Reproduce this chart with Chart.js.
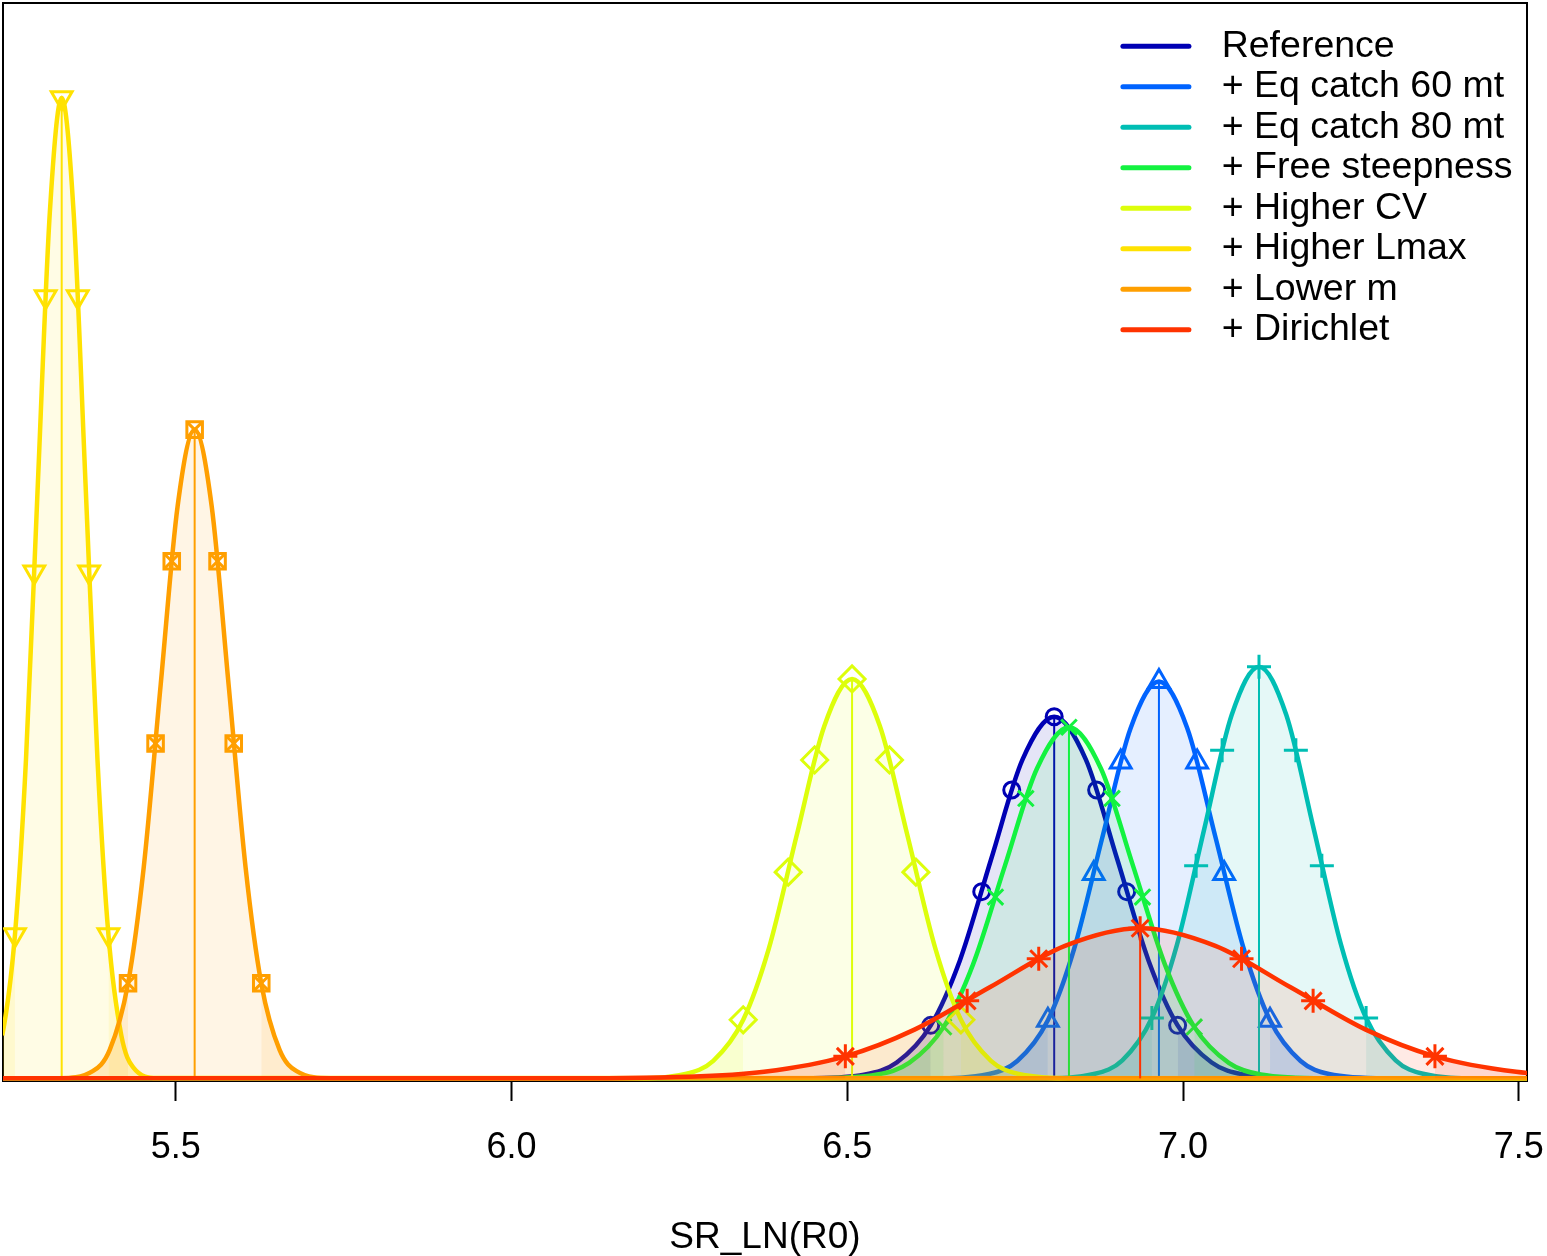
<!DOCTYPE html>
<html>
<head>
<meta charset="utf-8">
<title>SR_LN(R0) densities</title>
<script src="https://cdn.jsdelivr.net/npm/chart.js@4/dist/chart.umd.min.js"></script>
<style>
  html, body { margin: 0; padding: 0; background: #fff; }
  #chartDiv { width: 1547px; height: 1256px; }
</style>
</head>
<body>
<div id="chartDiv"><canvas id="densChart"></canvas></div>
<script>
var seriesNames = ["Reference", "+ Eq catch 60 mt", "+ Eq catch 80 mt", "+ Free steepness",
                   "+ Higher CV", "+ Higher Lmax", "+ Lower m", "+ Dirichlet"];
var seriesColors = ["#0000B4", "#0063FF", "#00BEB4", "#13F240", "#DDFE0B", "#FFE201", "#FF9F00", "#FF3300"];
var markerStyles = ["circle", "triangle", "cross", "crossRot", "rectRot", "triangle", "rect", "star"];
var markerRotation = [0, 0, 0, 0, 0, 180, 0, 0];
var markerOverlay = [null, null, null, null, null, null, "crossRot", null];
var markerSize = [8, 12, 12, 11, 13, 12, 11, 12];

// MLE (vertical line) and density at the MLE
var means = [6.808, 6.964, 7.113, 6.830, 6.507, 5.330, 5.528, 6.936];
var peaks = [4.12, 4.52, 4.69, 4.00, 4.55, 11.17, 7.39, 1.71];

// density curves
var curveX = [
  [5.0, 6.4328, 6.5266, 6.5735, 6.6242, 6.6673, 6.7142, 6.7611, 6.808, 6.8549, 6.9018, 6.9487, 6.9918, 7.0425, 7.0894, 7.1832, 8.0],
  [5.0, 6.6264, 6.7108, 6.753, 6.7986, 6.8374, 6.8796, 6.9218, 6.964, 7.0062, 7.0484, 7.0906, 7.1294, 7.175, 7.2172, 7.3016, 8.0],
  [5.0, 6.7874, 6.8688, 6.9095, 6.9535, 6.9909, 7.0316, 7.0723, 7.113, 7.1537, 7.1944, 7.2351, 7.2725, 7.3165, 7.3572, 7.4386, 8.0],
  [5.0, 6.4492, 6.5444, 6.592, 6.6434, 6.6872, 6.7348, 6.7824, 6.830, 6.8776, 6.9252, 6.9728, 7.0166, 7.068, 7.1156, 7.2108, 8.0],
  [5.0, 6.1762, 6.2589, 6.3003, 6.3449, 6.383, 6.4243, 6.4657, 6.507, 6.5484, 6.5897, 6.6311, 6.6691, 6.7138, 6.7551, 6.8378, 8.0],
  [5.0, 5.188, 5.2235, 5.2415, 5.2604, 5.2768, 5.2945, 5.3123, 5.330, 5.3478, 5.3655, 5.3833, 5.3996, 5.4188, 5.4365, 5.472, 8.0],
  [5.0, 5.3256, 5.3762, 5.4015, 5.4288, 5.4521, 5.4774, 5.5027, 5.528, 5.5533, 5.5786, 5.6039, 5.6272, 5.6545, 5.6798, 5.7304, 8.0],
  [5.0, 6.040, 6.264, 6.376, 6.497, 6.600, 6.712, 6.824, 6.936, 7.048, 7.160, 7.272, 7.375, 7.496, 7.608, 7.832, 8.0]
];
var curveY = [
  [0, 0.0014, 0.0457, 0.181, 0.604, 1.338, 2.499, 3.636, 4.12, 3.636, 2.499, 1.338, 0.604, 0.181, 0.0457, 0.0014, 0],
  [0, 0.0015, 0.0502, 0.198, 0.662, 1.468, 2.741, 3.989, 4.52, 3.989, 2.741, 1.468, 0.662, 0.198, 0.0502, 0.0015, 0],
  [0, 0.0016, 0.0521, 0.206, 0.687, 1.523, 2.845, 4.139, 4.69, 4.139, 2.845, 1.523, 0.687, 0.206, 0.0521, 0.0016, 0],
  [0, 0.0013, 0.0444, 0.176, 0.586, 1.299, 2.426, 3.530, 4.00, 3.530, 2.426, 1.299, 0.586, 0.176, 0.0444, 0.0013, 0],
  [0, 0.0015, 0.0505, 0.200, 0.667, 1.477, 2.760, 4.015, 4.55, 4.015, 2.760, 1.477, 0.667, 0.200, 0.0505, 0.0015, 0],
  [0, 0.004, 0.124, 0.490, 1.636, 3.627, 6.775, 9.858, 11.17, 9.858, 6.775, 3.627, 1.636, 0.490, 0.124, 0.004, 0],
  [0, 0.0025, 0.082, 0.324, 1.083, 2.400, 4.482, 6.522, 7.39, 6.522, 4.482, 2.400, 1.083, 0.324, 0.082, 0.0025, 0],
  [0, 0.0006, 0.019, 0.075, 0.251, 0.555, 1.037, 1.509, 1.71, 1.509, 1.037, 0.555, 0.251, 0.075, 0.019, 0.0006, 0]
];

// symbols at the 2.5, 12.5, 25, 50, 75, 87.5, 97.5 % points
var markX = [
  [6.6242, 6.7001, 6.7448, 6.808, 6.8712, 6.9159, 6.9918],
  [6.7986, 6.8669, 6.9071, 6.964, 7.0209, 7.0611, 7.1294],
  [6.9535, 7.0194, 7.0581, 7.113, 7.1679, 7.2066, 7.2725],
  [6.6434, 6.7205, 6.7658, 6.830, 6.8942, 6.9395, 7.0166],
  [6.3449, 6.4119, 6.4513, 6.507, 6.5627, 6.6021, 6.6691],
  [5.2604, 5.2892, 5.3061, 5.330, 5.3539, 5.3708, 5.3996],
  [5.4288, 5.4698, 5.4939, 5.528, 5.5621, 5.5862, 5.6272],
  [6.497, 6.6784, 6.785, 6.936, 7.087, 7.1936, 7.375]
];
var markY = [
  [0.604, 2.127, 3.285, 4.12, 3.285, 2.127, 0.604],
  [0.662, 2.334, 3.603, 4.52, 3.603, 2.334, 0.662],
  [0.687, 2.421, 3.739, 4.69, 3.739, 2.421, 0.687],
  [0.586, 2.065, 3.189, 4.00, 3.189, 2.065, 0.586],
  [0.667, 2.349, 3.627, 4.55, 3.627, 2.349, 0.667],
  [1.636, 5.767, 8.905, 11.17, 8.905, 5.767, 1.636],
  [1.083, 3.815, 5.891, 7.39, 5.891, 3.815, 1.083],
  [0.251, 0.883, 1.363, 1.71, 1.363, 0.883, 0.251]
];

var xTicks = [5.5, 6.0, 6.5, 7.0, 7.5];
var xMin = 5.2426, xMax = 7.512;

Chart.defaults.font.family = 'Arial, "Liberation Sans", Helvetica, sans-serif';
Chart.defaults.color = '#000';

function fade(hex, a) {
    var r = parseInt(hex.slice(1, 3), 16), g = parseInt(hex.slice(3, 5), 16), b = parseInt(hex.slice(5, 7), 16);
    return 'rgba(' + r + ',' + g + ',' + b + ',' + a + ')';
}
function pts(xs, ys) {
    return xs.map(function(x, j) { return {x: x, y: ys[j]}; });
}

var datasets = [];
for (var i = 0; i < seriesNames.length; i++) {
    var col = seriesColors[i];
    var base = (seriesNames.length - 1 - i) * 10;   // later series on top
    var curve = pts(curveX[i], curveY[i]);
    var nc = curve.length;

    // extra shading on the tails outside the 95% interval
    [curve.slice(0, 5), curve.slice(nc - 5)].forEach(function(tail) {
        datasets.push({
            data: tail, borderColor: 'rgba(0,0,0,0)', borderWidth: 0, pointRadius: 0,
            fill: 'origin', backgroundColor: fade(col, 0.1),
            cubicInterpolationMode: 'monotone', order: base + 3
        });
    });
    datasets.push({
        label: seriesNames[i], data: curve, borderColor: col, borderWidth: 4.5, pointRadius: 0,
        fill: 'origin', backgroundColor: fade(col, 0.1),
        cubicInterpolationMode: 'monotone', order: base + 2
    });
    datasets.push({
        data: [{x: means[i], y: 0}, {x: means[i], y: peaks[i]}],
        borderColor: col, borderWidth: 2, pointRadius: 0, order: base + 1
    });
    var styles = [markerStyles[i]];
    if (markerOverlay[i]) styles.push(markerOverlay[i]);
    styles.forEach(function(st) {
        datasets.push({
            data: pts(markX[i], markY[i]), showLine: false,
            pointStyle: st, pointRotation: markerRotation[i], pointRadius: markerSize[i],
            pointBorderWidth: 3, pointBorderColor: col, pointBackgroundColor: 'rgba(0,0,0,0)',
            order: base
        });
    });
}

// put the legend in the top right corner of the plot box
var legendSpot = {
    id: 'legendSpot',
    afterLayout: function(chart) {
        var lg = chart.legend, ca = chart.chartArea;
        lg.left = ca.right - 407;
        lg.right = ca.right;
        lg.top = ca.top + 21.5;
        lg.bottom = ca.bottom;
        lg.width = lg.right - lg.left;
        lg.height = lg.bottom - lg.top;
    }
};

var edge = {display: true, color: '#000', width: 2};

var densChart = new Chart(document.getElementById('densChart'), {
    type: 'line',
    data: {datasets: datasets},
    plugins: [legendSpot],
    options: {
        responsive: true,
        maintainAspectRatio: false,
        animation: false,
        events: [],
        layout: {autoPadding: false, padding: {left: 3, top: 3, right: 19, bottom: 0}},
        plugins: {
            tooltip: {enabled: false},
            legend: {
                position: 'chartArea',
                align: 'start',
                labels: {
                    boxWidth: 80, boxHeight: 0, padding: 3, color: '#000',
                    font: {size: 37.5},
                    generateLabels: function() {
                        return seriesNames.map(function(n, k) {
                            return {
                                text: n, fillStyle: 'rgba(0,0,0,0)', strokeStyle: seriesColors[k],
                                lineWidth: 5, lineDash: [66, 1000], lineCap: 'round', hidden: false
                            };
                        });
                    }
                }
            }
        },
        scales: {
            x: {
                type: 'linear', position: 'bottom', min: xMin, max: xMax,
                afterBuildTicks: function(ax) {
                    ax.ticks = xTicks.map(function(v) { return {value: v}; });
                },
                ticks: {
                    callback: function(v) { return v.toFixed(1); },
                    font: {size: 36, lineHeight: '88px'}, color: '#000', padding: 3,
                    maxRotation: 0, autoSkip: false
                },
                grid: {drawOnChartArea: false, drawTicks: true, tickLength: 20, tickColor: '#000', tickWidth: 2},
                border: edge,
                title: {
                    display: true, text: 'SR_LN(R0)', color: '#000',
                    font: {size: 37, lineHeight: 1}, padding: {top: 24, bottom: 0}
                }
            },
            y: {
                type: 'linear', position: 'left', min: -0.03, max: 12.25,
                ticks: {display: false}, grid: {display: false, drawTicks: false}, border: edge
            },
            xTop: {
                type: 'linear', position: 'top', min: xMin, max: xMax,
                ticks: {display: false}, grid: {display: false, drawTicks: false}, border: edge
            },
            yRight: {
                type: 'linear', position: 'right', min: 0, max: 1,
                ticks: {display: false}, grid: {display: false, drawTicks: false}, border: edge
            }
        }
    }
});
</script>
</body>
</html>
